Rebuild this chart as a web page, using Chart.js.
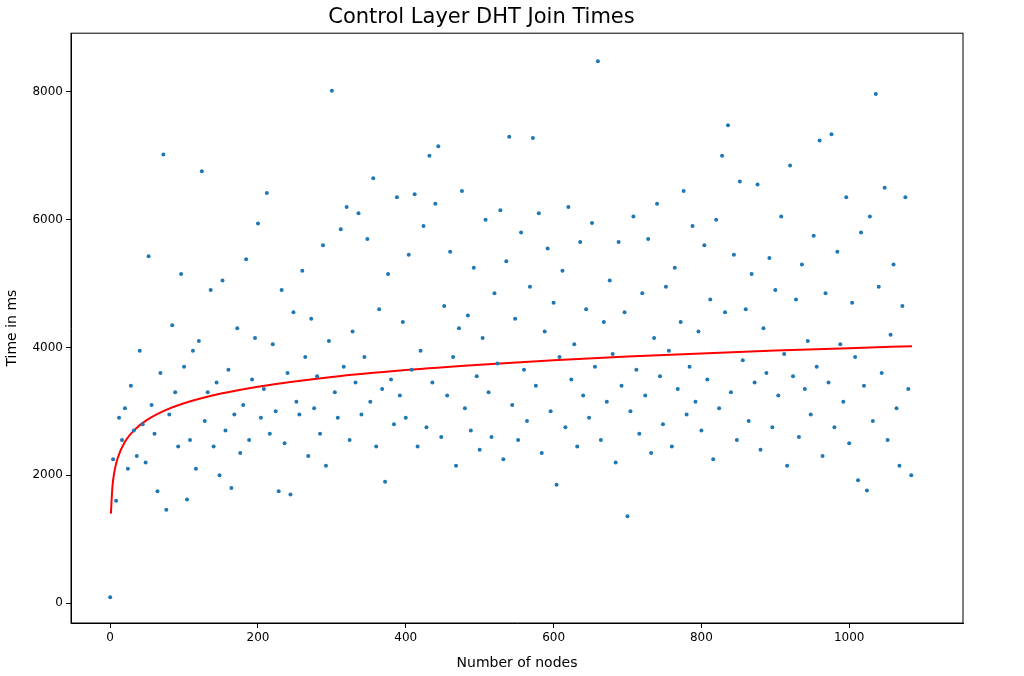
<!DOCTYPE html>
<html>
<head>
<meta charset="utf-8">
<script src="https://cdn.jsdelivr.net/npm/chart.js@4"></script>
<style>
  html, body { margin: 0; padding: 0; background: #fff; }
  #wrap { width: 1024px; height: 676px; }
</style>
</head>
<body>
<div id="wrap"><canvas id="joinChart"></canvas></div>
<script>
// node count per sample
const nodeCounts = [
    0, 4, 8, 12, 16, 20, 24, 28, 32, 36,
    40, 44, 48, 52, 56, 60, 64, 68, 72, 76,
    80, 84, 88, 92, 96, 100, 104, 108, 112, 116,
    120, 124, 128, 132, 136, 140, 144, 148, 152, 156,
    160, 164, 168, 172, 176, 180, 184, 188, 192, 196,
    200, 204, 208, 212, 216, 220, 224, 228, 232, 236,
    240, 244, 248, 252, 256, 260, 264, 268, 272, 276,
    280, 284, 288, 292, 296, 300, 304, 308, 312, 316,
    320, 324, 328, 332, 336, 340, 344, 348, 352, 356,
    360, 364, 368, 372, 376, 380, 384, 388, 392, 396,
    400, 404, 408, 412, 416, 420, 424, 428, 432, 436,
    440, 444, 448, 452, 456, 460, 464, 468, 472, 476,
    480, 484, 488, 492, 496, 500, 504, 508, 512, 516,
    520, 524, 528, 532, 536, 540, 544, 548, 552, 556,
    560, 564, 568, 572, 576, 580, 584, 588, 592, 596,
    600, 604, 608, 612, 616, 620, 624, 628, 632, 636,
    640, 644, 648, 652, 656, 660, 664, 668, 672, 676,
    680, 684, 688, 692, 696, 700, 704, 708, 712, 716,
    720, 724, 728, 732, 736, 740, 744, 748, 752, 756,
    760, 764, 768, 772, 776, 780, 784, 788, 792, 796,
    800, 804, 808, 812, 816, 820, 824, 828, 832, 836,
    840, 844, 848, 852, 856, 860, 864, 868, 872, 876,
    880, 884, 888, 892, 896, 900, 904, 908, 912, 916,
    920, 924, 928, 932, 936, 940, 944, 948, 952, 956,
    960, 964, 968, 972, 976, 980, 984, 988, 992, 996,
    1000, 1004, 1008, 1012, 1016, 1020, 1024, 1028, 1032, 1036,
    1040, 1044, 1048, 1052, 1056, 1060, 1064, 1068, 1072, 1076,
    1080, 1084
];
// join time in ms
const joinTimes = [
    90, 2250, 1600, 2900, 2550, 3050, 2100, 3400, 2700, 2300,
    3950, 2800, 2200, 5430, 3100, 2650, 1750, 3600, 7020, 1460,
    2950, 4350, 3300, 2450, 5150, 3700, 1620, 2550, 3950, 2100,
    4100, 6760, 2850, 3300, 4900, 2450, 3450, 2000, 5050, 2700,
    3650, 1800, 2950, 4300, 2350, 3100, 5380, 2550, 3500, 4150,
    5940, 2900, 3350, 6420, 2650, 4050, 3000, 1750, 4900, 2500,
    3600, 1700, 4550, 3150, 2950, 5200, 3850, 2300, 4450, 3050,
    3550, 2650, 5600, 2150, 4100, 8020, 3300, 2900, 5850, 3700,
    6200, 2550, 4250, 3450, 6100, 2950, 3850, 5700, 3150, 6650,
    2450, 4600, 3350, 1900, 5150, 3500, 2800, 6350, 3250, 4400,
    2900, 5450, 3650, 6400, 2450, 3950, 5900, 2750, 7000, 3450,
    6250, 7150, 2600, 4650, 3250, 5500, 3850, 2150, 4300, 6450,
    3050, 4500, 2700, 5250, 3550, 2400, 4150, 6000, 3300, 2600,
    4850, 3750, 6150, 2250, 5350, 7300, 3100, 4450, 2550, 5800,
    3650, 2850, 4950, 7280, 3400, 6100, 2350, 4250, 5550, 3000,
    4700, 1850, 3850, 5200, 2750, 6200, 3500, 4050, 2450, 5650,
    3250, 4600, 2900, 5950, 3700, 8480, 2550, 4400, 3150, 5050,
    3900, 2200, 5650, 3400, 4550, 1360, 3000, 6050, 3650, 2650,
    4850, 3250, 5700, 2350, 4150, 6250, 3550, 2800, 4950, 3950,
    2450, 5250, 3350, 4400, 6450, 2950, 3700, 5900, 3150, 4250,
    2700, 5600, 3500, 4750, 2250, 6000, 3050, 7000, 4550, 7480,
    3300, 5450, 2550, 6600, 3800, 4600, 2850, 5150, 3450, 6550,
    2400, 4300, 3600, 5400, 2750, 4900, 3250, 6050, 3900, 2150,
    6850, 3550, 4750, 2600, 5300, 3350, 4100, 2950, 5750, 3700,
    7240, 2300, 4850, 3450, 7340, 2750, 5500, 4050, 3150, 6350,
    2500, 4700, 3850, 1920, 5800, 3400, 1760, 6050, 2850, 7970,
    4950, 3600, 6500, 2550, 4200, 5300, 3050, 2150, 4650, 6350,
    3350, 2000
];
// fitted curve
const fitNodes = [1, 3, 6, 10, 20, 35, 50, 75, 100, 150, 200, 300, 400, 500, 600, 700, 800, 900, 1000, 1085];
const fitTimes = [1400, 1812, 2072, 2263, 2523, 2733, 2867, 3019, 3127, 3279, 3387, 3539, 3647, 3730, 3799, 3857, 3907, 3951, 3990, 4020];
const xTicks = [0, 200, 400, 600, 800, 1000];
const yTicks = [0, 2000, 4000, 6000, 8000];

const scatterPts = nodeCounts.map((x, i) => ({ x: x, y: joinTimes[i] }));
const fitPts = fitNodes.map((x, i) => ({ x: x, y: fitTimes[i] }));

// box around plot area
const frame = {
    id: "frame",
    afterDraw(chart) {
        const a = chart.chartArea, c = chart.ctx;
        c.save();
        c.strokeStyle = "#000";
        c.lineWidth = 1;
        c.strokeRect(a.left, a.top, a.right - a.left, a.bottom - a.top);
        c.restore();
    },
};

const font = { family: "DejaVu Sans", size: 12 };

new Chart(document.getElementById("joinChart"), {
    type: "scatter",
    data: {
        datasets: [
            {
                data: scatterPts,
                backgroundColor: "#1f77b4",
                borderWidth: 0,
                pointRadius: 2,
            },
            {
                type: "line",
                data: fitPts,
                borderColor: "#ff0000",
                borderWidth: 2,
                pointRadius: 0,
                cubicInterpolationMode: "monotone",
                fill: false,
            },
        ],
    },
    options: {
        responsive: true,
        maintainAspectRatio: false,
        animation: false,
        layout: { padding: { left: 0, right: 61, top: 0, bottom: 0 } },
        plugins: {
            legend: { display: false },
            tooltip: { enabled: false },
            title: {
                display: true,
                text: "Control Layer DHT Join Times",
                color: "#000",
                font: { family: "DejaVu Sans", size: 21, weight: "normal" },
                padding: { top: 5, bottom: 3 },
            },
        },
        scales: {
            x: {
                type: "linear",
                min: -53,
                max: 1154,
                afterBuildTicks: (s) => { s.ticks = xTicks.map(v => ({ value: v })); },
                afterFit: (s) => { s.height = 53; },
                grid: { display: true, drawOnChartArea: false, tickLength: 5, color: "#000" },
                border: { color: "#000" },
                ticks: { color: "#000", font: font, padding: 3, maxRotation: 0, callback: (v) => String(v) },
                title: { display: true, text: "Number of nodes", color: "#000", font: { family: "DejaVu Sans", size: 14 }, padding: { top: 2 } },
            },
            y: {
                type: "linear",
                min: -313,
                max: 8920,
                afterBuildTicks: (s) => { s.ticks = yTicks.map(v => ({ value: v })); },
                afterFit: (s) => { s.width = 71; },
                grid: { display: true, drawOnChartArea: false, tickLength: 5, color: "#000" },
                border: { color: "#000" },
                ticks: { color: "#000", font: font, padding: 3, callback: (v) => String(v) },
                title: { display: true, text: "Time in ms", color: "#000", font: { family: "DejaVu Sans", size: 14 }, padding: { bottom: 2 } },
            },
        },
    },
    plugins: [frame],
});
</script>
</body>
</html>
